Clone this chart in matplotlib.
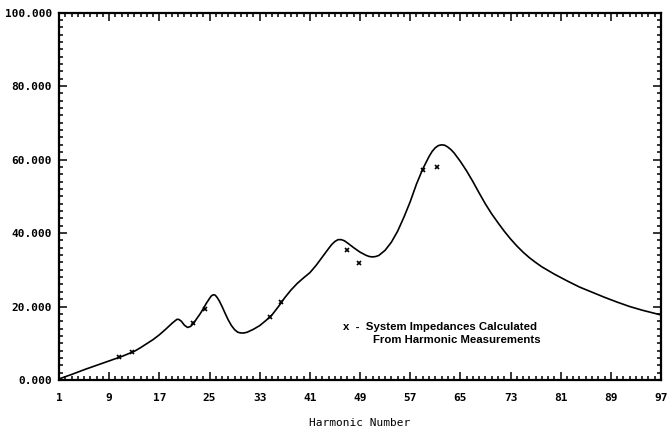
import numpy as np
import matplotlib.pyplot as plt
from matplotlib.ticker import MultipleLocator, FixedLocator

# system impedance curve vs harmonic number
harm = [1, 3, 5, 7, 9, 11, 13, 14, 15, 16, 17, 18, 18.5, 19, 19.5, 19.8, 20.1, 20.5,
        21, 21.5, 22, 22.5, 23, 23.5, 24, 24.5, 25, 25.3, 25.6, 25.9, 26.2, 26.6,
        27, 27.5, 28, 28.5, 29, 29.5, 30, 30.5, 31, 32, 33, 34, 35, 36, 37, 38,
        39, 40, 41, 42, 43, 44, 44.5, 45, 45.5, 46, 46.5, 47, 48, 49, 50, 50.5,
        51, 51.5, 52, 53, 54, 55, 56, 57, 58, 59, 60, 60.5, 61, 61.5, 62, 62.5,
        63, 63.5, 64, 65, 66, 67, 68, 69, 70, 71, 72, 73, 74, 75, 76, 77, 78, 80,
        82, 84, 86, 88, 90, 92, 94, 97]
imped = [0.3, 1.5, 2.8, 4.0, 5.2, 6.4, 7.8, 8.8, 9.9, 11.0, 12.3, 13.8, 14.6, 15.4,
         16.1, 16.5, 16.5, 16.0, 14.9, 14.3, 14.6, 15.5, 16.8, 18.0, 19.4, 20.9,
         22.2, 22.9, 23.2, 23.1, 22.5, 21.4, 20.0, 18.1, 16.3, 14.8, 13.7, 13.0,
         12.8, 12.8, 13.0, 13.8, 14.8, 16.2, 17.8, 20.0, 22.4, 24.5, 26.3, 27.8,
         29.2, 31.2, 33.5, 35.8, 36.9, 37.7, 38.2, 38.2, 37.9, 37.3, 36.0, 34.8,
         33.9, 33.6, 33.5, 33.6, 33.9, 35.3, 37.5, 40.5, 44.3, 48.5, 53.3, 57.4,
         60.8, 62.2, 63.2, 63.8, 64.0, 63.9, 63.4, 62.7, 61.8, 59.5, 56.9, 54.0,
         50.9, 47.9, 45.2, 42.8, 40.5, 38.4, 36.5, 34.8, 33.3, 32.0, 30.8, 28.8,
         27.0, 25.3, 23.9, 22.5, 21.2, 20.0, 19.0, 17.7]

# impedances calculated from harmonic measurements
meas_h = [10.6, 12.7, 22.4, 24.3, 34.6, 36.4, 47.0, 48.9, 59.0, 61.2]
meas_z = [6.3, 7.6, 15.5, 19.3, 17.2, 21.3, 35.3, 31.9, 57.2, 58.0]

xticks = list(range(1, 98, 8))
yticks = [0, 20, 40, 60, 80, 100]

fig = plt.figure(figsize=(6.67, 4.33), dpi=100)
ax = fig.add_axes([0.0885, 0.1224, 0.9025, 0.8486])

ax.plot(harm, imped, color='black', lw=1.2)
ax.plot(meas_h, meas_z, 'x', color='black', ms=3.5, mew=1.2)

ax.set_xlim(1, 97)
ax.set_ylim(0, 100)
ax.xaxis.set_major_locator(FixedLocator(xticks))
ax.xaxis.set_minor_locator(MultipleLocator(1))
ax.yaxis.set_major_locator(FixedLocator(yticks))
ax.yaxis.set_minor_locator(MultipleLocator(2))
ax.set_yticklabels(['%.3f' % v for v in yticks])

ax.tick_params(which='both', direction='in', top=True, right=True, width=1.1)
ax.tick_params(which='major', length=6)
ax.tick_params(which='minor', length=3)
ax.tick_params(axis='x', pad=9)
ax.tick_params(axis='y', pad=5)
for lbl in ax.get_xticklabels() + ax.get_yticklabels():
    lbl.set_family('DejaVu Sans Mono')
    lbl.set_fontsize(8)
    lbl.set_fontweight('bold')
for sp in ax.spines.values():
    sp.set_linewidth(1.6)

ax.set_xlabel('Harmonic Number', family='DejaVu Sans Mono', fontsize=8, labelpad=11)

ax.text(46.3, 14.3, 'x  -  System Impedances Calculated', family='Liberation Sans',
        fontsize=8.2, fontweight='bold', va='center')
ax.text(51.0, 10.8, 'From Harmonic Measurements', family='Liberation Sans',
        fontsize=8.2, fontweight='bold', va='center')

fig.savefig('out.png', dpi=100)
